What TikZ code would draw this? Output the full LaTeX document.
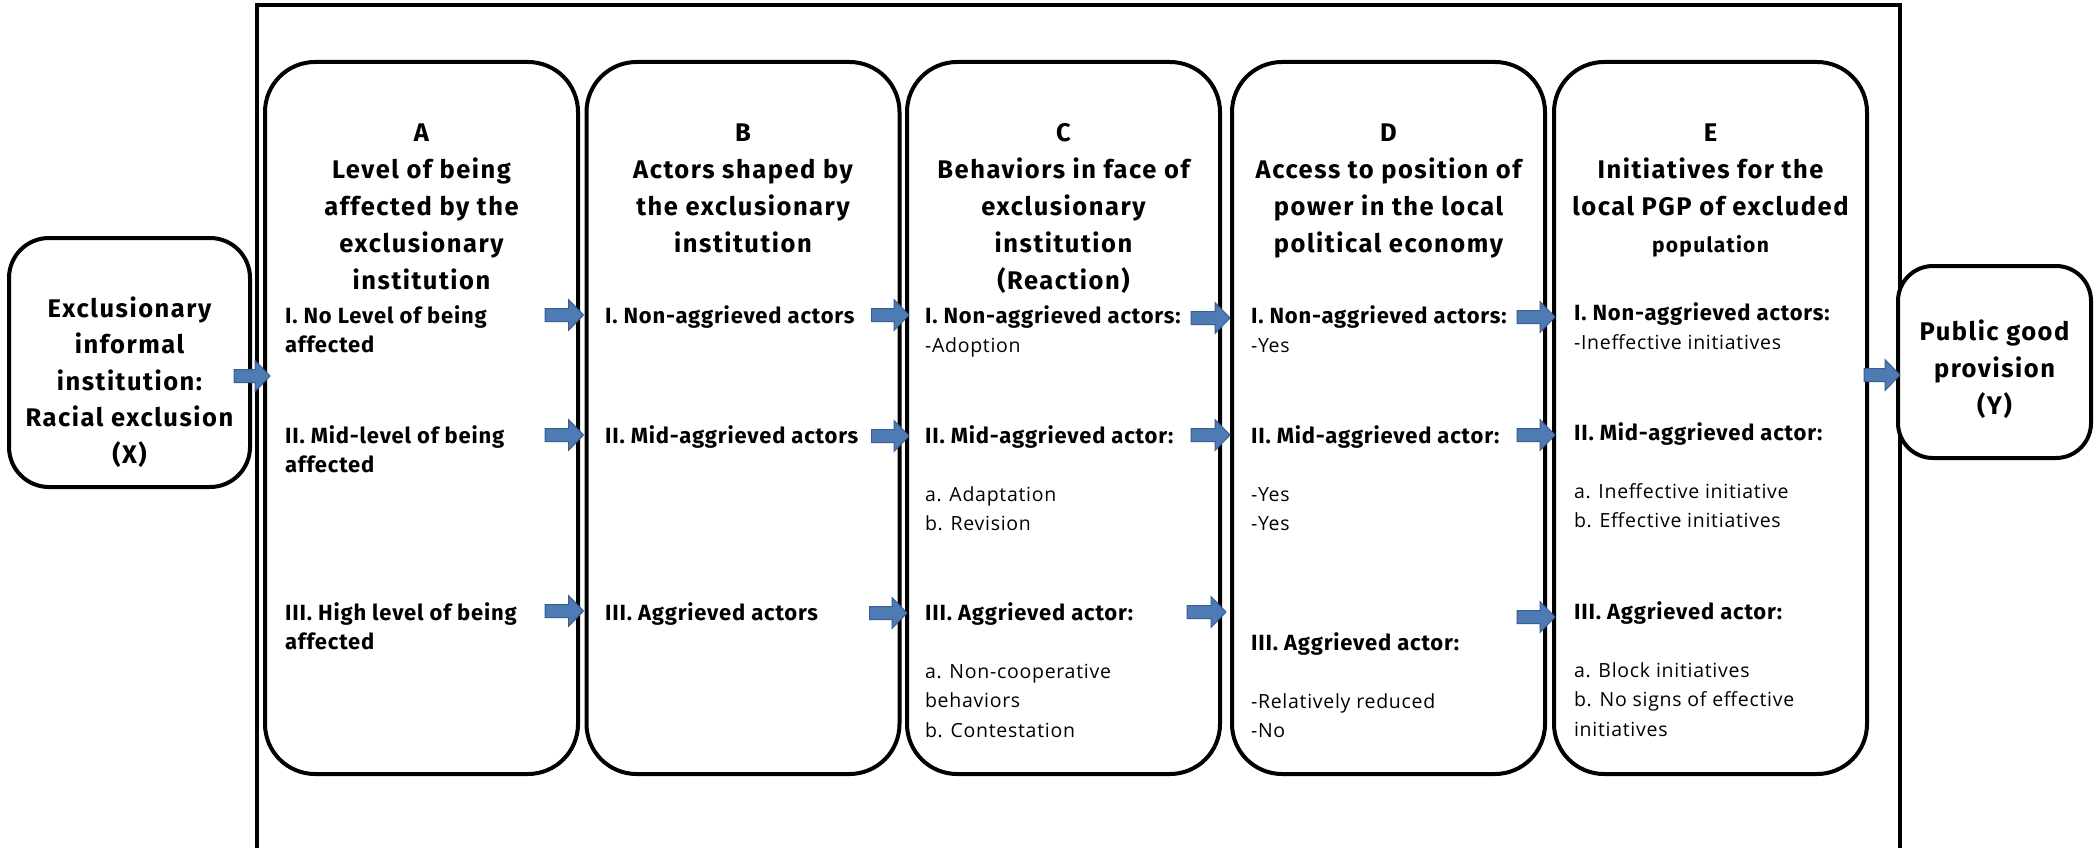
\documentclass[tikz,border=0pt]{standalone}
\usepackage{fontspec}
\setmainfont{Fira Sans}
\newfontfamily\hdf{Fira Sans}[LetterSpace=6]
\newfontfamily\rowf{Fira Sans}[LetterSpace=3.7]
\newfontfamily\subfont{Open Sans}[LetterSpace=3.7]
\usetikzlibrary{calc}
\definecolor{arrowfill}{HTML}{4F7BB5}
\definecolor{arrowline}{HTML}{3A5F8F}
\newcommand\hdtxt[2][37]{{\hdf\bfseries\fontsize{25.5}{#1}\selectfont\begin{tabular}[t]{@{}c@{}}#2\end{tabular}}}
\newcommand\rowtxt[1]{{\rowf\bfseries\fontsize{22}{29.3}\selectfont\begin{tabular}[t]{@{}l@{}}#1\end{tabular}}}
\newcommand\sbt{\subfont\mdseries\fontsize{19.5}{29}\selectfont}
\tikzset{
  box/.style={draw, line width=4, rounded corners=50, fill=white, inner sep=0},
  colbox/.style={box, minimum width=313, minimum height=712},
  txt/.style={inner sep=0, outer sep=0},
  blockarrow/.style={draw=arrowline, fill=arrowfill, line width=1,
    to path={let \p1=(\tikztostart), \p2=(\tikztotarget) in
      (\x1,\y1+6.5pt) -- (\x2-15pt,\y1+6.5pt) -- (\x2-15pt,\y1+15.5pt) -- (\x2,\y1)
      -- (\x2-15pt,\y1-15.5pt) -- (\x2-15pt,\y1-6.5pt) -- (\x1,\y1-6.5pt) -- cycle}}
}
\begin{document}
\begin{tikzpicture}[x=1pt,y=-1pt]
\useasboundingbox (0,0) rectangle (2099,848);
% outer frame (open at the bottom)
\draw[line width=4] (257,852) -- (257,5) -- (1900,5) -- (1900,852);
% boxes
\node[box, minimum width=241, minimum height=249, rounded corners=40] (X) at (129.5,362.5) {};
\node[colbox] (A) at (421.5,418) {};
\node[colbox] (B) at (743,418) {};
\node[colbox] (C) at (1063.5,418) {};
\node[colbox] (D) at (1388.5,418) {};
\node[colbox] (E) at (1710.5,418) {};
\node[box, minimum width=193, minimum height=192, rounded corners=35] (Y) at (1994.5,362) {};
% box texts
\node[txt, anchor=base] (Xt) at (X.center |- 0,317) {\hdtxt[36.5]{Exclusionary\\informal\\institution:\\Racial exclusion\\(X)}};
\node[txt, anchor=base] (Yt) at (Y.center |- 0,340) {\hdtxt{Public good\\provision\\(Y)}};
\node[txt, anchor=base] (Ah) at (A.center |- 0,142) {\hdtxt{A\\Level of being\\affected by the\\exclusionary\\institution}};
\node[txt, anchor=base] (Bh) at (B.center |- 0,142) {\hdtxt{B\\Actors shaped by\\the exclusionary\\institution}};
\node[txt, anchor=base] (Ch) at (C.center |- 0,142) {\hdtxt{C\\Behaviors in face of\\exclusionary\\institution\\(Reaction)}};
\node[txt, anchor=base] (Dh) at (D.center |- 0,142) {\hdtxt{D\\Access to position of\\power in the local\\political economy}};
\node[txt, anchor=base] (Eh) at (E.center |- 0,142) {\hdtxt{E\\Initiatives for the\\local PGP of excluded\\{\fontsize{21}{37}\selectfont population}}};
% column A rows
\node[txt, anchor=base west] (A1) at (285,323) {\rowtxt{I. No Level of being\\affected}};
\node[txt, anchor=base west] (A2) at (285,443) {\rowtxt{II. Mid-level of being\\affected}};
\node[txt, anchor=base west] (A3) at (285,620) {\rowtxt{III. High level of being\\affected}};
% column B rows
\node[txt, anchor=base west] (B1) at (605,323) {\rowtxt{I. Non-aggrieved actors}};
\node[txt, anchor=base west] (B2) at (605,443) {\rowtxt{II. Mid-aggrieved actors}};
\node[txt, anchor=base west] (B3) at (605,620) {\rowtxt{III. Aggrieved actors}};
% column C rows
\node[txt, anchor=base west] (C1) at (925,323) {\rowtxt{I. Non-aggrieved actors:\\\sbt -Adoption}};
\node[txt, anchor=base west] (C2) at (925,443) {\rowtxt{II. Mid-aggrieved actor:\\ \\\sbt a. Adaptation\\\sbt b. Revision}};
\node[txt, anchor=base west] (C3) at (925,620) {\rowtxt{III. Aggrieved actor:\\ \\\sbt a. Non-cooperative\\\sbt behaviors\\\sbt b. Contestation}};
% column D rows
\node[txt, anchor=base west] (D1) at (1251,323) {\rowtxt{I. Non-aggrieved actors:\\\sbt -Yes}};
\node[txt, anchor=base west] (D2) at (1251,443) {\rowtxt{II. Mid-aggrieved actor:\\ \\\sbt -Yes\\\sbt -Yes}};
\node[txt, anchor=base west] (D3) at (1251,650) {\rowtxt{III. Aggrieved actor:\\ \\\sbt -Relatively reduced\\\sbt -No}};
% column E rows
\node[txt, anchor=base west] (E1) at (1574,320) {\rowtxt{I. Non-aggrieved actors:\\\sbt -Ineffective initiatives}};
\node[txt, anchor=base west] (E2) at (1574,440) {\rowtxt{II. Mid-aggrieved actor:\\ \\\sbt a. Ineffective initiative\\\sbt b. Effective initiatives}};
\node[txt, anchor=base west] (E3) at (1574,619) {\rowtxt{III. Aggrieved actor:\\ \\\sbt a. Block initiatives\\\sbt b. No signs of effective\\\sbt initiatives}};
% block arrows
\draw[blockarrow] ($(X.east |- 0,376)+(-18,0)$) to ($(A.west |- 0,376)+(7,0)$);
\draw[blockarrow] ($(A.east |- 0,315)+(-35,0)$) to ($(B.west |- 0,315)+(-1,0)$);
\draw[blockarrow] ($(A.east |- 0,435)+(-35,0)$) to ($(B.west |- 0,435)+(-1,0)$);
\draw[blockarrow] ($(A.east |- 0,611)+(-35,0)$) to ($(B.west |- 0,611)+(-1,0)$);
\draw[blockarrow] ($(B.east |- 0,315)+(-30,0)$) to ($(C.west |- 0,315)+(4,0)$);
\draw[blockarrow] ($(B.east |- 0,436)+(-30,0)$) to ($(C.west |- 0,436)+(4,0)$);
\draw[blockarrow] ($(B.east |- 0,613)+(-32,0)$) to ($(C.west |- 0,613)+(2,0)$);
\draw[blockarrow] ($(C.east |- 0,318)+(-31,0)$) to ($(D.west |- 0,318)+(0,0)$);
\draw[blockarrow] ($(C.east |- 0,435)+(-31,0)$) to ($(D.west |- 0,435)+(0,0)$);
\draw[blockarrow] ($(C.east |- 0,612)+(-35,0)$) to ($(D.west |- 0,612)+(-4,0)$);
\draw[blockarrow] ($(D.east |- 0,317)+(-30,0)$) to ($(E.west |- 0,317)+(3,0)$);
\draw[blockarrow] ($(D.east |- 0,435)+(-30,0)$) to ($(E.west |- 0,435)+(3,0)$);
\draw[blockarrow] ($(D.east |- 0,617)+(-30,0)$) to ($(E.west |- 0,617)+(3,0)$);
\draw[blockarrow] ($(E.east |- 0,375)+(-5,0)$) to ($(Y.west |- 0,375)+(4,0)$);
\end{tikzpicture}
\end{document}
